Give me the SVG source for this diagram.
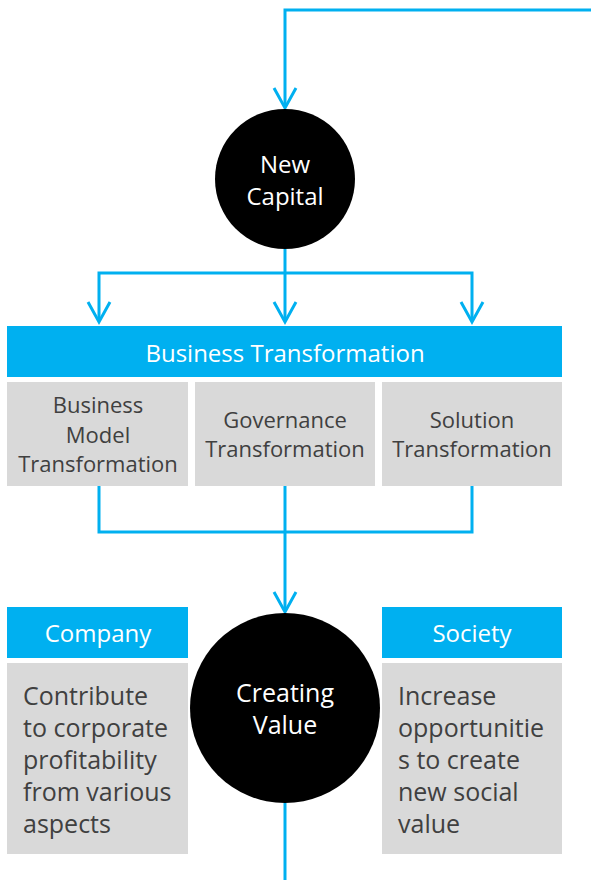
<svg xmlns="http://www.w3.org/2000/svg" width="591" height="880" viewBox="0 0 591 880">
<defs>
<style>
.ln{fill:none;stroke:#00B0F0;stroke-width:3}
.ban{fill:#00B0F0}
.box{fill:#D9D9D9}
.circ{fill:#000000}
.wt{font-family:"Open Sans","Noto Sans",sans-serif;fill:#FFFFFF;text-anchor:middle}
.gt{font-family:"Open Sans","Noto Sans",sans-serif;fill:#404040;font-size:22px;text-anchor:middle}
.bt{font-family:"Open Sans","Noto Sans",sans-serif;fill:#404040;font-size:25px}
</style>
<marker id="arr" markerUnits="userSpaceOnUse" markerWidth="30" markerHeight="30" refX="0" refY="0" orient="auto" overflow="visible">
<path d="M-18,-11 L2,0 L-18,11" fill="none" stroke="#00B0F0" stroke-width="3" stroke-linejoin="miter"/>
</marker>
</defs>
<g id="connectors">
<path class="ln" d="M591,10 H285 V106" marker-end="url(#arr)"/>
<path class="ln" d="M285,249 V273"/>
<path class="ln" d="M99,320 V273 H472 V320"/>
<path class="ln" d="M99,318 V320" marker-end="url(#arr)"/>
<path class="ln" d="M472,318 V320" marker-end="url(#arr)"/>
<path class="ln" d="M285,273 V320" marker-end="url(#arr)"/>
<path class="ln" d="M99,486 V532 H472 V486"/>
<path class="ln" d="M285,486 V610" marker-end="url(#arr)"/>
<path class="ln" d="M285,803 V880"/>
</g>
<g id="new-capital">
<circle class="circ" cx="285" cy="179" r="70"/>
<text class="wt" x="285" y="173" font-size="24">New</text>
<text class="wt" x="285" y="205" font-size="24">Capital</text>
</g>
<g id="business-transformation">
<rect class="ban" x="7" y="326" width="555" height="51"/>
<text class="wt" x="285" y="362" font-size="24">Business Transformation</text>
</g>
<g id="business-model-transformation">
<rect class="box" x="7" y="382" width="181" height="104"/>
<text class="gt" x="98" y="413">Business</text>
<text class="gt" x="98" y="443">Model</text>
<text class="gt" x="98" y="472">Transformation</text>
</g>
<g id="governance-transformation">
<rect class="box" x="195" y="382" width="180" height="104"/>
<text class="gt" x="285" y="428">Governance</text>
<text class="gt" x="285" y="457">Transformation</text>
</g>
<g id="solution-transformation">
<rect class="box" x="382" y="382" width="180" height="104"/>
<text class="gt" x="472" y="428">Solution</text>
<text class="gt" x="472" y="457">Transformation</text>
</g>
<g id="company">
<rect class="ban" x="7" y="607" width="181" height="51"/>
<text class="wt" x="98" y="642" font-size="24">Company</text>
<rect class="box" x="7" y="663" width="181" height="191"/>
<text class="bt" x="23" y="705">Contribute</text>
<text class="bt" x="23" y="737">to corporate</text>
<text class="bt" x="23" y="769">profitability</text>
<text class="bt" x="23" y="801">from various</text>
<text class="bt" x="23" y="833">aspects</text>
</g>
<g id="creating-value">
<circle class="circ" cx="285" cy="708" r="95"/>
<text class="wt" x="285" y="702" font-size="25">Creating</text>
<text class="wt" x="285" y="734" font-size="25">Value</text>
</g>
<g id="society">
<rect class="ban" x="382" y="607" width="180" height="51"/>
<text class="wt" x="472" y="642" font-size="24">Society</text>
<rect class="box" x="382" y="663" width="180" height="191"/>
<text class="bt" x="398" y="705">Increase</text>
<text class="bt" x="398" y="737">opportunitie</text>
<text class="bt" x="398" y="769">s to create</text>
<text class="bt" x="398" y="801">new social</text>
<text class="bt" x="398" y="833">value</text>
</g>
</svg>
